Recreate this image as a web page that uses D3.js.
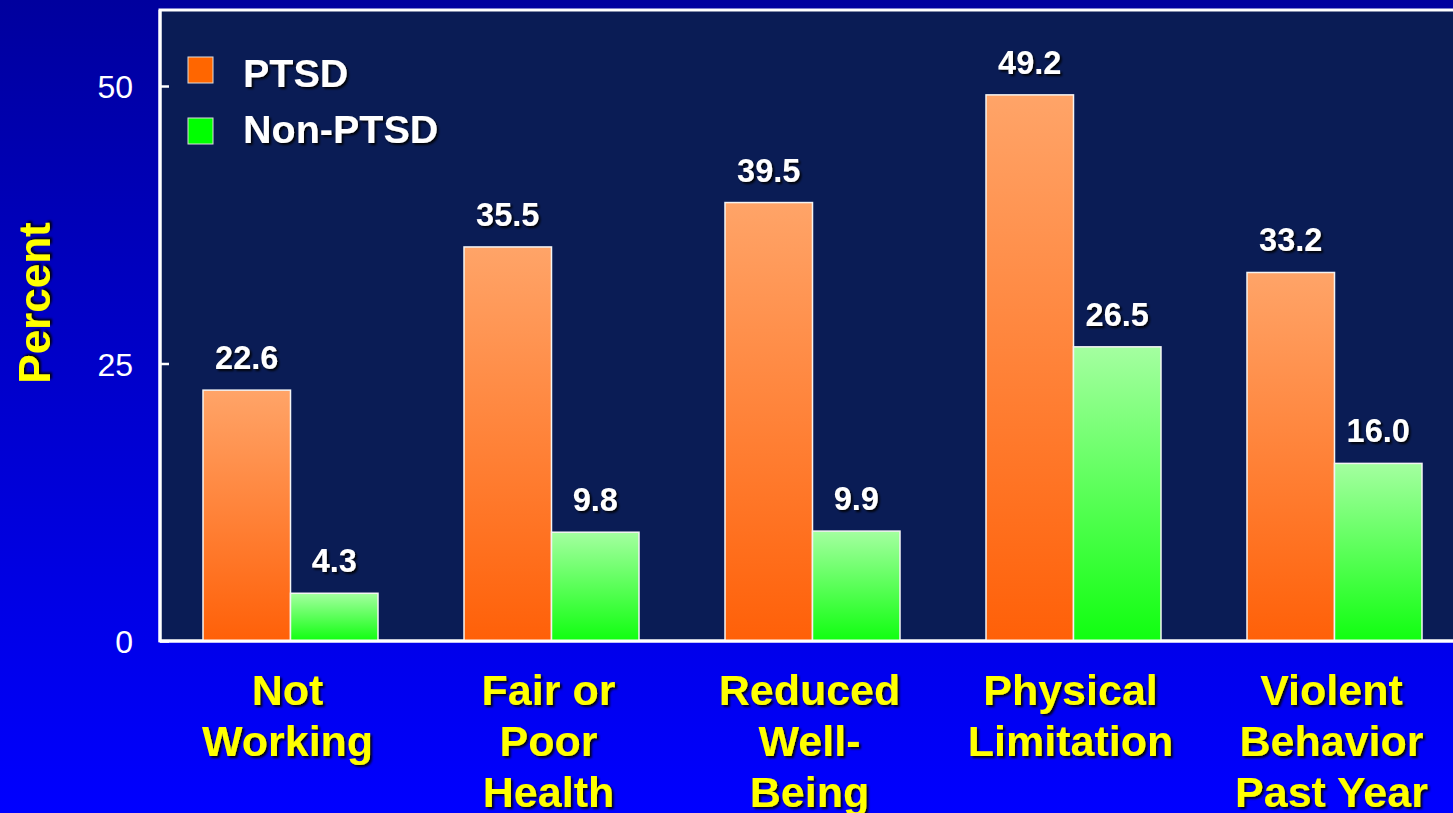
<!DOCTYPE html>
<html><head><meta charset="utf-8">
<script src="https://cdn.jsdelivr.net/npm/d3@7"></script>
<style>html,body{margin:0;padding:0;overflow:hidden;background:#0000c0}</style>
</head><body>
<svg id="c" width="1453" height="813"></svg>
<script>
const categories = [["Not","Working"],["Fair or","Poor","Health"],["Reduced","Well-","Being"],["Physical","Limitation"],["Violent","Behavior","Past Year"]];
const seriesNames = ["PTSD","Non-PTSD"];
const ptsd = [22.6, 35.5, 39.5, 49.2, 33.2];
const nonPtsd = [4.3, 9.8, 9.9, 26.5, 16.0];
const yTicks = [0, 25, 50];

const W = 1453, H = 813;
const svg = d3.select("#c");
const defs = svg.append("defs");
const bg = defs.append("linearGradient").attr("id","bg").attr("x1",0).attr("y1",0).attr("x2",0).attr("y2",1);
bg.append("stop").attr("offset","0%").attr("stop-color","#00009e");
bg.append("stop").attr("offset","100%").attr("stop-color","#0000ff");
const go = defs.append("linearGradient").attr("id","gO").attr("x1",0).attr("y1",0).attr("x2",0).attr("y2",1);
go.append("stop").attr("offset","0%").attr("stop-color","#ffa468");
go.append("stop").attr("offset","100%").attr("stop-color","#ff6008");
const gg = defs.append("linearGradient").attr("id","gG").attr("x1",0).attr("y1",0).attr("x2",0).attr("y2",1);
gg.append("stop").attr("offset","0%").attr("stop-color","#a4ffa0");
gg.append("stop").attr("offset","100%").attr("stop-color","#10ff10");
const sh = defs.append("filter").attr("id","sh").attr("x","-10%").attr("y","-10%").attr("width","130%").attr("height","130%");
sh.append("feDropShadow").attr("dx",2).attr("dy",2).attr("stdDeviation",0.8).attr("flood-color","#000").attr("flood-opacity",0.9);

svg.append("rect").attr("width",W).attr("height",H).attr("fill","url(#bg)");

const x0 = 160, y0 = 641, yTop = 10, xRight = 1470;
const y = d3.scaleLinear().domain([0,50]).range([y0, 86]);
const x = d3.scaleBand().domain(d3.range(categories.length)).range([x0+1, x0+1+5*261]).paddingInner(0).paddingOuter(0);
const xs = d3.scaleBand().domain([0,1]).range([0, 175]);

// plot area
svg.append("rect").attr("x",x0).attr("y",yTop).attr("width",xRight-x0).attr("height",y0-yTop)
  .attr("fill","#0a1c55").attr("stroke","#ffffff").attr("stroke-width",3);

const data = categories.map((c,i)=>({i, vals:[ptsd[i], nonPtsd[i]]}));
const grp = svg.selectAll("g.grp").data(data).join("g").attr("class","grp")
  .attr("transform", d=>`translate(${x(d.i)+x.bandwidth()/2-88.5},0)`);
grp.selectAll("rect").data(d=>d.vals.map((v,k)=>({v,k}))).join("rect")
  .attr("x", d=>xs(d.k)).attr("width", xs.bandwidth())
  .attr("y", d=>y(d.v)).attr("height", d=>y0-y(d.v))
  .attr("fill", d=>d.k===0?"url(#gO)":"url(#gG)")
  .attr("stroke","#f4f4f4").attr("stroke-width",1.5);
grp.selectAll("text").data(d=>d.vals.map((v,k)=>({v,k}))).join("text")
  .attr("x", d=>xs(d.k)+xs.bandwidth()/2).attr("y", d=>y(d.v)-21)
  .attr("text-anchor","middle").attr("fill","#ffffff")
  .attr("font-family","Liberation Sans, Arial, sans-serif").attr("font-weight","bold").attr("font-size",32.5)
  .attr("filter","url(#sh)")
  .text(d=>d.v.toFixed(1));

// axes lines
svg.append("line").attr("x1",x0).attr("x2",x0).attr("y1",yTop).attr("y2",y0+1).attr("stroke","#fff").attr("stroke-width",3);
svg.append("line").attr("x1",x0).attr("x2",xRight).attr("y1",y0).attr("y2",y0).attr("stroke","#fff").attr("stroke-width",3);

const yAxis = d3.axisRight(y).tickValues(yTicks).tickSize(9).tickFormat("");
const ya = svg.append("g").attr("transform",`translate(${x0},0)`).call(yAxis);
ya.select(".domain").remove();
ya.selectAll("line").attr("stroke","#fff").attr("stroke-width",2.5);
svg.selectAll("text.yt").data(yTicks).join("text").attr("class","yt")
  .attr("x",133).attr("y",d=>y(d)+12).attr("text-anchor","end").attr("fill","#fff")
  .attr("font-family","Liberation Sans, Arial, sans-serif").attr("font-size",32).text(d=>d);

// category labels
const cl = svg.selectAll("text.cat").data(categories).join("text").attr("class","cat")
  .attr("text-anchor","middle").attr("fill","#ffff00")
  .attr("font-family","Liberation Sans, Arial, sans-serif").attr("font-weight","bold").attr("font-size",43)
  .attr("filter","url(#sh)")
  .attr("transform",(d,i)=>`translate(${x(i)+x.bandwidth()/2-4},705)`);
cl.selectAll("tspan").data(d=>d).join("tspan").attr("x",0).attr("dy",(d,j)=>j===0?0:51).text(d=>d);

// y label
svg.append("text").attr("transform","translate(50,303) rotate(-90)").attr("text-anchor","middle")
  .attr("fill","#ffff00").attr("font-family","Liberation Sans, Arial, sans-serif").attr("font-weight","bold").attr("font-size",44)
  .attr("filter","url(#sh)").text("Percent");

// legend
const lg = svg.selectAll("g.lg").data(seriesNames).join("g").attr("class","lg");
lg.append("rect").attr("x",188).attr("y",(d,i)=>57+i*61).attr("width",25).attr("height",26)
  .attr("fill",(d,i)=>i===0?"#ff6600":"#00ff00").attr("stroke","#ddd").attr("stroke-width",1);
lg.append("text").attr("x",243).attr("y",(d,i)=>87+i*56).attr("fill","#fff")
  .attr("font-family","Liberation Sans, Arial, sans-serif").attr("font-weight","bold").attr("font-size",39.5)
  .attr("filter","url(#sh)").text(d=>d);
</script>
</body></html>
